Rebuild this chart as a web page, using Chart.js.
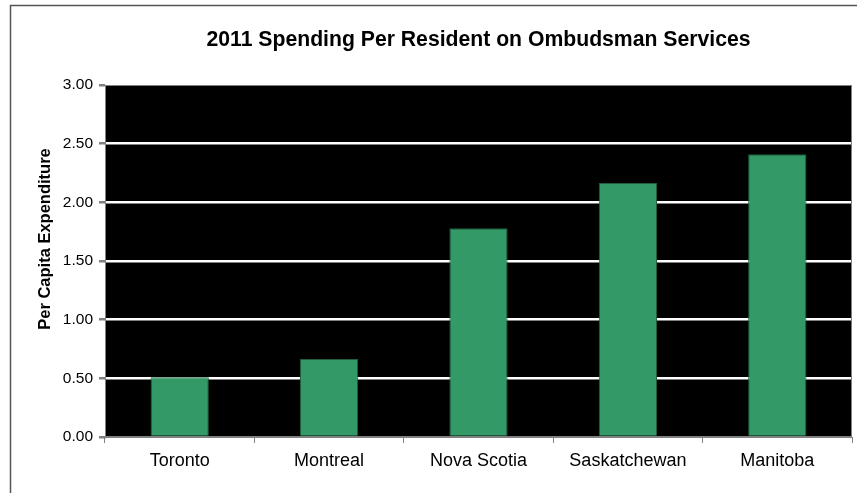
<!DOCTYPE html>
<html><head><meta charset="utf-8">
<script src="https://cdn.jsdelivr.net/npm/chart.js@4"></script>
<style>html,body{margin:0;padding:0;background:#fff;}#wrap{width:857px;height:493px;}</style>
</head><body><div id="wrap"><canvas id="c" width="857" height="493"></canvas></div>
<script>
const categories = ["Toronto", "Montreal", "Nova Scotia", "Saskatchewan", "Manitoba"];
const spending = [0.51, 0.665, 1.78, 2.165, 2.41];
const yTicks = [0, 0.5, 1, 1.5, 2, 2.5, 3];
const chartTitle = "2011 Spending Per Resident on Ombudsman Services";
const yTitle = "Per Capita Expenditure";

const F = "'Liberation Sans', Arial, sans-serif";
const bgPlugin = {
  id: 'bg',
  beforeDraw(chart) {
    const {ctx, chartArea: a} = chart;
    ctx.save();
    ctx.fillStyle = '#fff';
    ctx.fillRect(0, 0, chart.width, chart.height);
    ctx.fillStyle = '#000';
    ctx.fillRect(a.left, a.top, a.right - a.left, a.bottom - a.top);
    ctx.strokeStyle = '#555';
    ctx.lineWidth = 1.5;
    ctx.beginPath();
    ctx.moveTo(10.5, chart.height);
    ctx.lineTo(10.5, 5.5);
    ctx.lineTo(chart.width, 5.5);
    ctx.stroke();
    ctx.fillStyle = '#000';
    ctx.font = "bold 21.2px " + F;
    ctx.textAlign = 'center';
    ctx.textBaseline = 'middle';
    ctx.fillText(chartTitle, (a.left + a.right) / 2, 40);
    ctx.translate(45, 239);
    ctx.rotate(-Math.PI / 2);
    ctx.font = "bold 16.5px " + F;
    ctx.fillText(yTitle, 0, 0);
    ctx.restore();
  },
  afterDatasetsDraw(chart) {
    const {ctx, chartArea: a} = chart;
    ctx.save();
    ctx.strokeStyle = '#808080';
    ctx.lineWidth = 1;
    ctx.strokeRect(a.left + 0.5, a.top + 0.5, a.right - a.left - 1, a.bottom - a.top - 1);
    ctx.restore();
  }
};

new Chart(document.getElementById('c'), {
  type: 'bar',
  data: {
    labels: categories,
    datasets: [{
      data: spending,
      backgroundColor: '#339966',
      borderColor: '#1f5f3f',
      borderWidth: 1,
      barPercentage: 0.39,
      categoryPercentage: 1.0
    }]
  },
  options: {
    responsive: false,
    animation: false,
    devicePixelRatio: 1,
    layout: { padding: { left: 0, right: 5, top: 85, bottom: 0 } },
    plugins: {
      legend: { display: false },
      tooltip: { enabled: false },
      title: { display: false }
    },
    scales: {
      x: {
        offset: true,
        grid: { display: true, offset: true, drawOnChartArea: false, color: '#808080', tickLength: 6 },
        border: { display: true, color: '#808080' },
        ticks: { color: '#000', font: { family: F, size: 18 }, padding: 7, maxRotation: 0 },
        afterFit(s) { s.height = 56; }
      },
      y: {
        min: 0, max: 3,
        afterBuildTicks(s) { s.ticks = yTicks.map(v => ({value: v})); },
        grid: {
          color: (c) => (c.tick && (c.tick.value === 0 || c.tick.value === 3)) ? 'rgba(0,0,0,0)' : '#ffffff',
          lineWidth: 2.5,
          tickColor: '#808080',
          tickLength: 6
        },
        border: { display: true, color: '#808080' },
        ticks: { color: '#000', font: { family: F, size: 15.5 }, padding: 6, callback: (v) => Number(v).toFixed(2) },
        title: { display: false, text: yTitle },
        afterFit(s) { s.width = 105; }
      }
    }
  },
  plugins: [bgPlugin]
});
</script></body></html>
